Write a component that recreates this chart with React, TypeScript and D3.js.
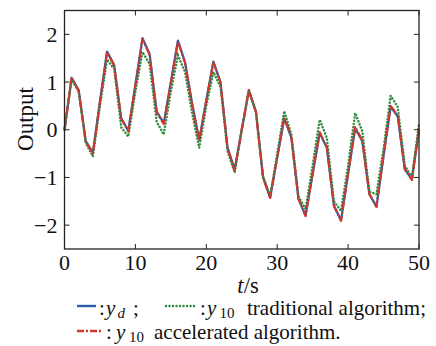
import React from "react";
import * as d3 from "d3";

const tValues: number[] = d3.range(0, 51);
const yd: number[] = [
  0, 1.09, 0.83, -0.24, -0.48, 0.6, 1.64, 1.36, 0.24, -0.02,
  0.95, 1.92, 1.59, 0.38, 0.14, 1.0, 1.87, 1.42, 0.55, -0.21,
  0.62, 1.43, 1.0, -0.38, -0.83, 0.0, 0.83, 0.38, -1.0, -1.42,
  -0.59, 0.24, -0.17, -1.45, -1.8, -0.93, -0.07, -0.38, -1.59, -1.9,
  -0.93, 0.03, -0.24, -1.35, -1.61, -0.55, 0.48, 0.28, -0.83, -1.04,
  0.0,
];
const yTraditional: number[] = [
  0, 1.05, 0.8, -0.28, -0.56, 0.5, 1.47, 1.28, 0.05, -0.14,
  0.8, 1.63, 1.38, 0.17, -0.1, 0.8, 1.56, 1.21, 0.35, -0.38,
  0.5, 1.21, 0.9, -0.45, -0.9, 0.0, 0.8, 0.38, -0.97, -1.4,
  -0.5, 0.39, -0.1, -1.4, -1.66, -0.75, 0.21, -0.17, -1.5, -1.7,
  -0.75, 0.35, -0.03, -1.3, -1.35, -0.4, 0.71, 0.48, -0.75, -1.0,
  0.12,
];
const yAccelerated: number[] = [
  0, 1.08, 0.82, -0.25, -0.5, 0.58, 1.62, 1.35, 0.23, -0.04,
  0.93, 1.9, 1.57, 0.36, 0.12, 0.98, 1.85, 1.4, 0.53, -0.23,
  0.61, 1.42, 0.99, -0.39, -0.85, 0.0, 0.83, 0.38, -1.0, -1.43,
  -0.58, 0.26, -0.16, -1.45, -1.81, -0.92, -0.05, -0.37, -1.6, -1.91,
  -0.92, 0.06, -0.22, -1.35, -1.62, -0.53, 0.5, 0.3, -0.83, -1.05,
  0.02,
];
const xTicks: number[] = [0, 10, 20, 30, 40, 50];
const yTicks: number[] = [-2, -1, 0, 1, 2];

const FONT = "Times New Roman, Liberation Serif, Tinos, DejaVu Serif, serif";

export default function App() {
  const W = 436, H = 346;
  const left = 64.5, right = 419, top = 10.5, bottom = 249;
  const x = d3.scaleLinear().domain([0, 50]).range([left, right]);
  const y = d3.scaleLinear().domain([-2.5, 2.5]).range([bottom, top]);
  const line = d3.line<number>().x((_, i) => x(tValues[i])).y((d) => y(d));
  const tickLen = 5;
  const fmt = (v: number) => (v < 0 ? "\u2212" + Math.abs(v) : String(v));
  const txt = { fontFamily: FONT, fill: "#111" } as const;
  const LF = 21;
  const SF = 15;

  return (
    <svg width={W} height={H} style={{ position: "absolute", left: 0, top: 0, background: "#fff" }}>
      <rect x={0} y={0} width={W} height={H} fill="#fff" />
      <path d={line(yd) || ""} fill="none" stroke="#2b5ca8" strokeWidth={2.2} strokeLinejoin="round" />
      <path d={line(yTraditional) || ""} fill="none" stroke="#2e8a3c" strokeWidth={2.5}
        strokeDasharray="0.1 3.2" strokeLinecap="round" />
      <path d={line(yAccelerated) || ""} fill="none" stroke="#d0382b" strokeWidth={2.2}
        strokeDasharray="9 2 2 2" strokeLinejoin="round" />
      <rect x={left} y={top} width={right - left} height={bottom - top} fill="none" stroke="#222" strokeWidth={1.3} />
      {xTicks.map((t) => (
        <g key={"x" + t}>
          <line x1={x(t)} x2={x(t)} y1={bottom} y2={bottom - tickLen} stroke="#222" strokeWidth={1} />
          <line x1={x(t)} x2={x(t)} y1={top} y2={top + tickLen} stroke="#222" strokeWidth={1} />
          <text x={x(t)} y={270} textAnchor="middle" fontSize={22} {...txt}>{t}</text>
        </g>
      ))}
      {yTicks.map((v) => (
        <g key={"y" + v}>
          <line x1={left} x2={left + tickLen} y1={y(v)} y2={y(v)} stroke="#222" strokeWidth={1} />
          <line x1={right} x2={right - tickLen} y1={y(v)} y2={y(v)} stroke="#222" strokeWidth={1} />
          <text x={57.5} y={y(v) + 7.5} textAnchor="end" fontSize={22} {...txt}>{fmt(v)}</text>
        </g>
      ))}
      <text transform="translate(33,119) rotate(-90)" textAnchor="middle" fontSize={23} {...txt}>Output</text>
      <text x={248} y={293} textAnchor="middle" fontSize={22.5} {...txt}>
        <tspan fontStyle="italic">t</tspan>/s
      </text>
      <line x1={77} x2={96} y1={306} y2={306} stroke="#2b5ca8" strokeWidth={2.4} />
      <text x={99} y={315} fontSize={LF} {...txt}>:</text>
      <text x={106} y={315} fontSize={LF} fontStyle="italic" {...txt}>y</text>
      <text x={117.5} y={318} fontSize={SF} fontStyle="italic" {...txt}>d</text>
      <text x={133} y={315} fontSize={LF} {...txt}>;</text>
      <line x1={166} x2={197} y1={306} y2={306} stroke="#2e8a3c" strokeWidth={2.4}
        strokeDasharray="0.1 3.4" strokeLinecap="round" />
      <text x={200} y={315} fontSize={LF} {...txt}>:</text>
      <text x={207} y={315} fontSize={LF} fontStyle="italic" {...txt}>y</text>
      <text x={219.5} y={318} fontSize={SF} {...txt}>10</text>
      <text x={247} y={315} fontSize={LF} {...txt}>traditional algorithm;</text>
      <line x1={77} x2={102} y1={331} y2={331} stroke="#d0382b" strokeWidth={2.4} strokeDasharray="7 2 2 2" />
      <text x={106} y={339} fontSize={LF} {...txt}>:</text>
      <text x={116} y={339} fontSize={LF} fontStyle="italic" {...txt}>y</text>
      <text x={129} y={342} fontSize={SF} {...txt}>10</text>
      <text x={154} y={339} fontSize={LF} {...txt}>accelerated algorithm.</text>
    </svg>
  );
}
